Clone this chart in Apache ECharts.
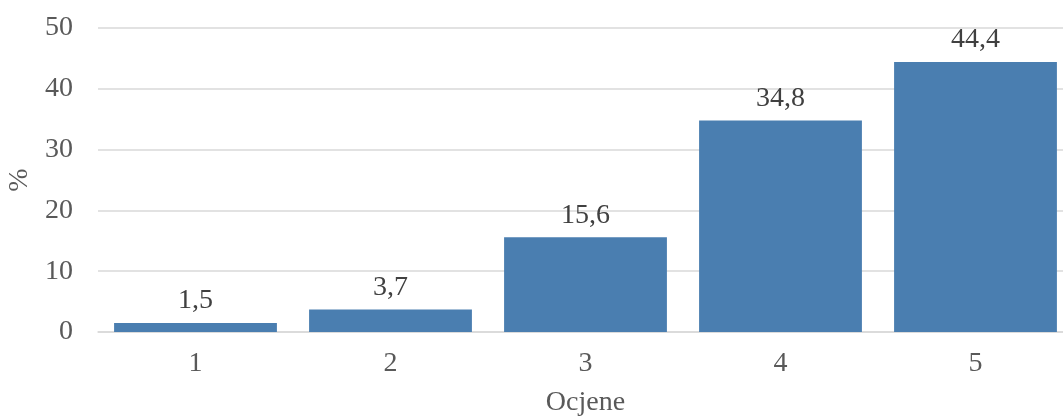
<!DOCTYPE html>
<html><head><meta charset="utf-8">
<script src="https://cdn.jsdelivr.net/npm/echarts@6/dist/echarts.min.js"></script>
<style>html,body{margin:0;padding:0;background:#fff}#c{width:1063px;height:417px}</style>
</head><body><div id="c"></div>
<script>
const categories = ['1', '2', '3', '4', '5'];
const values = [1.5, 3.7, 15.6, 34.8, 44.4];
const yTicks = [0, 10, 20, 30, 40, 50];
const xName = 'Ocjene';
const yName = '%';

const font = '"Liberation Serif", "Times New Roman", serif';
const chart = echarts.init(document.getElementById('c'));
chart.setOption({
  animation: false,
  grid: { left: 98, width: 975, top: 28, bottom: 85, containLabel: false, outerBoundsMode: 'none' },
  xAxis: {
    type: 'category', data: categories,
    name: xName, nameLocation: 'middle', nameGap: 57,
    nameTextStyle: { fontFamily: font, fontSize: 28, color: '#595959' },
    axisLine: { lineStyle: { color: '#d9d9d9', width: 1.5 } },
    axisTick: { show: false },
    axisLabel: { fontFamily: font, fontSize: 28, color: '#595959', margin: 18 }
  },
  yAxis: {
    type: 'value', min: yTicks[0], max: yTicks[yTicks.length - 1], interval: 10,
    name: yName, nameLocation: 'middle', nameGap: 61, nameRotate: 90,
    nameTextStyle: { fontFamily: font, fontSize: 28, color: '#595959' },
    axisLine: { show: false }, axisTick: { show: false },
    splitLine: { lineStyle: { color: '#d9d9d9', width: 1.5 } },
    axisLabel: { fontFamily: font, fontSize: 28, color: '#595959', margin: 25 }
  },
  series: [{
    type: 'bar', data: values, barCategoryGap: '16.5%',
    itemStyle: { color: '#4a7eb0' },
    label: {
      show: true, position: 'top', distance: 8,
      fontFamily: font, fontSize: 28, color: '#404040',
      formatter: p => String(p.value).replace('.', ',')
    }
  }]
});
</script></body></html>
